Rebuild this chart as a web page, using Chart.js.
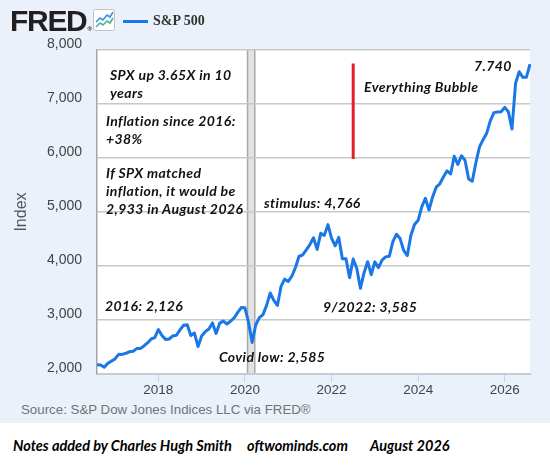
<!DOCTYPE html>
<html>
<head>
<meta charset="utf-8">
<title>S&amp;P 500 - FRED</title>
<script src="https://cdn.jsdelivr.net/npm/chart.js@4.4.1/dist/chart.umd.min.js"></script>
<style>
  body { margin: 0; width: 550px; height: 465px; position: relative; overflow: hidden; background: #fff;
         font-family: 'Liberation Sans', Arial, sans-serif; }
  #panel { position: absolute; left: 0; top: 0; width: 550px; height: 423px; background: #eaf1fa; }
  #chartBox { position: absolute; left: 0; top: 0; width: 550px; height: 400px; }
  #logo { position: absolute; left: 10px; top: 6px; font: 700 30px/30px 'Liberation Sans', Arial, sans-serif;
          letter-spacing: -1.3px; color: #231f20; }
  #logo .reg { font-size: 6px; letter-spacing: 0; vertical-align: baseline; margin-left: 1px; }
  #icon { position: absolute; left: 93px; top: 9px; }
  #legendLine { position: absolute; left: 123px; top: 20px; width: 25px; height: 3px; background: #1a78e6; }
  #legendText { position: absolute; left: 153px; top: 14px; font: 700 14px/14px 'Liberation Serif', 'Times New Roman', serif;
                color: #333; }
  .note { position: absolute; font: italic 700 14px/18.3px Lato, sans-serif; letter-spacing: 0.4px;
          color: #111; white-space: nowrap; }
  #source { position: absolute; left: 21px; top: 403px; font: 13.3px/14px 'Liberation Sans', Arial, sans-serif; color: #737373; }
  .credit { position: absolute; top: 438.5px; font: italic 700 14.5px/14px Lato, sans-serif; color: #000; white-space: nowrap; }
</style>
</head>
<body>
<div id="panel"></div>
<div id="chartBox"><canvas id="spxChart"></canvas></div>

<div id="logo">FRED<span class="reg">®</span></div>
<svg id="icon" width="22" height="22" viewBox="0 0 22 22">
  <rect x="0.5" y="0.5" width="21" height="21" rx="2" fill="#fff" stroke="#bfc4c9"/>
  <polyline points="3,13 7,9 10,11 14,6 17,8 20,3" fill="none" stroke="#3b8fe4" stroke-width="1.6"/>
  <polyline points="3,18 7,14 10,16 14,12 17,14 20,9" fill="none" stroke="#45b596" stroke-width="1.6"/>
</svg>
<div id="legendLine"></div>
<div id="legendText">S&amp;P 500</div>

<div class="note" style="left:110px; top:65.5px;">SPX up 3.65X in 10<br>years</div>
<div class="note" style="left:106px; top:112px;">Inflation since 2016:<br>+38%</div>
<div class="note" style="left:106px; top:163.5px;">If SPX matched<br>inflation, it would be<br>2,933 in August 2026</div>
<div class="note" style="left:264px; top:193.5px;">stimulus: 4,766</div>
<div class="note" style="left:105px; top:297px;">2016: 2,126</div>
<div class="note" style="left:219px; top:348px;">Covid low: 2,585</div>
<div class="note" style="left:323px; top:297.5px;">9/2022: 3,585</div>
<div class="note" style="left:364px; top:77.5px;">Everything Bubble</div>
<div class="note" style="left:474px; top:57px;">7.740</div>

<div id="source">Source: S&amp;P Dow Jones Indices LLC via FRED®</div>
<div class="credit" style="left:13px;">Notes added by Charles Hugh Smith</div>
<div class="credit" style="left:247px;">oftwominds.com</div>
<div class="credit" style="left:370px;">August 2026</div>

<script>
// Monthly observations (month-end close), Aug 2016 - Aug 2026
const MONTHS = [
  '2016-08', '2016-09', '2016-10', '2016-11', '2016-12',
  '2017-01', '2017-02', '2017-03', '2017-04', '2017-05', '2017-06', '2017-07', '2017-08', '2017-09', '2017-10', '2017-11', '2017-12',
  '2018-01', '2018-02', '2018-03', '2018-04', '2018-05', '2018-06', '2018-07', '2018-08', '2018-09', '2018-10', '2018-11', '2018-12',
  '2019-01', '2019-02', '2019-03', '2019-04', '2019-05', '2019-06', '2019-07', '2019-08', '2019-09', '2019-10', '2019-11', '2019-12',
  '2020-01', '2020-02', '2020-03', '2020-04', '2020-05', '2020-06', '2020-07', '2020-08', '2020-09', '2020-10', '2020-11', '2020-12',
  '2021-01', '2021-02', '2021-03', '2021-04', '2021-05', '2021-06', '2021-07', '2021-08', '2021-09', '2021-10', '2021-11', '2021-12',
  '2022-01', '2022-02', '2022-03', '2022-04', '2022-05', '2022-06', '2022-07', '2022-08', '2022-09', '2022-10', '2022-11', '2022-12',
  '2023-01', '2023-02', '2023-03', '2023-04', '2023-05', '2023-06', '2023-07', '2023-08', '2023-09', '2023-10', '2023-11', '2023-12',
  '2024-01', '2024-02', '2024-03', '2024-04', '2024-05', '2024-06', '2024-07', '2024-08', '2024-09', '2024-10', '2024-11', '2024-12',
  '2025-01', '2025-02', '2025-03', '2025-04', '2025-05', '2025-06', '2025-07', '2025-08', '2025-09', '2025-10', '2025-11', '2025-12',
  '2026-01', '2026-02', '2026-03', '2026-04', '2026-05', '2026-06', '2026-07', '2026-08'
];

const SP500 = [
  2171, 2168, 2126, 2199, 2239,
  2279, 2364, 2363, 2384, 2412, 2423, 2470, 2472, 2519, 2575, 2648, 2674,
  2824, 2714, 2641, 2648, 2705, 2718, 2816, 2902, 2914, 2712, 2760, 2507,
  2704, 2784, 2834, 2946, 2752, 2942, 2980, 2926, 2977, 3038, 3141, 3231,
  3226, 2954, 2585, 2912, 3044, 3100, 3271, 3500, 3363, 3270, 3622, 3756,
  3714, 3811, 3973, 4181, 4204, 4298, 4395, 4523, 4308, 4605, 4567, 4766,
  4516, 4374, 4530, 4132, 4132, 3785, 4130, 3955, 3586, 3872, 4080, 3840,
  4077, 3970, 4109, 4169, 4180, 4450, 4589, 4508, 4288, 4194, 4568, 4770,
  4846, 5096, 5254, 5036, 5278, 5460, 5522, 5648, 5762, 5705, 6032, 5882,
  6041, 5955, 5612, 5569, 5912, 6205, 6339, 6460, 6688, 6840, 6850, 6858,
  6938, 6858, 6537, 7383, 7598, 7494, 7494, 7740
];

const X_TICKS = ['2018-01', '2020-01', '2022-01', '2024-01', '2026-01'];
const X_TICK_LABELS = ['2018', '2020', '2022', '2024', '2026'];
const Y_TICKS = [2000, 3000, 4000, 5000, 6000, 7000, 8000];

// Covid recession (shaded) and the red "Everything Bubble" marker
const RECESSION = ['2020-02', '2020-04'];
const BUBBLE_MONTH = '2022-07';
const BUBBLE_RANGE = [5980, 7750];

const LINE_BLUE = '#1a78e6';

// white plot area + recession band, painted before the grid
const plotBackground = {
  id: 'plotBackground',
  beforeDraw(chart) {
    const { ctx, chartArea: a, scales: { x } } = chart;
    ctx.save();
    ctx.fillStyle = '#ffffff';
    ctx.fillRect(a.left, a.top, a.right - a.left, a.bottom - a.top);

    const x0 = x.getPixelForValue(MONTHS.indexOf(RECESSION[0])) - 1;
    const x1 = x.getPixelForValue(MONTHS.indexOf(RECESSION[1])) - 1;
    ctx.fillStyle = '#e3e3e3';
    ctx.fillRect(x0, a.top, x1 - x0, a.bottom - a.top);
    ctx.strokeStyle = '#a9a9a9';
    ctx.lineWidth = 1.5;
    ctx.beginPath();
    ctx.moveTo(x0, a.top); ctx.lineTo(x0, a.bottom);
    ctx.moveTo(x1, a.top); ctx.lineTo(x1, a.bottom);
    ctx.stroke();
    ctx.restore();
  }
};

Chart.defaults.font.family = "'Liberation Sans', Arial, sans-serif";
Chart.defaults.color = '#444';

const ctx = document.getElementById('spxChart');
new Chart(ctx, {
  type: 'line',
  data: {
    labels: MONTHS,
    datasets: [
      {
        label: 'S&P 500',
        data: SP500,
        borderColor: LINE_BLUE,
        borderWidth: 3,
        borderJoinStyle: 'round',
        pointRadius: 0,
        tension: 0
      },
      {
        label: 'Everything Bubble',
        data: BUBBLE_RANGE.map(v => ({ x: BUBBLE_MONTH, y: v })),
        borderColor: '#e3202b',
        borderWidth: 3,
        pointRadius: 0
      }
    ]
  },
  options: {
    responsive: true,
    maintainAspectRatio: false,
    animation: false,
    layout: { padding: { top: 50, right: 20, left: 0, bottom: 0 } },
    plugins: {
      legend: { display: false },
      tooltip: { enabled: false }
    },
    scales: {
      x: {
        type: 'category',
        offset: false,
        afterBuildTicks: s => { s.ticks = X_TICKS.map(m => ({ value: MONTHS.indexOf(m) })); },
        afterFit: s => { s.height = 26; },
        grid: { drawOnChartArea: false, drawTicks: true, tickLength: 8, color: '#c9d3df', lineWidth: 1 },
        border: { color: '#c3ccd7', width: 2 },
        ticks: {
          autoSkip: false,
          maxRotation: 0,
          padding: 0,
          color: '#444',
          font: { size: 13.5 },
          callback: (value, i) => X_TICK_LABELS[i]
        }
      },
      y: {
        min: Y_TICKS[0],
        max: Y_TICKS[Y_TICKS.length - 1],
        afterBuildTicks: s => { s.ticks = Y_TICKS.map(v => ({ value: v })); },
        afterFit: s => { s.width = 97; },
        grid: { color: '#c8c8c8', lineWidth: 1.5, drawTicks: false },
        border: { display: true, color: '#a6a6a6', width: 1.5 },
        ticks: {
          padding: 15,
          labelOffset: -6,
          color: '#444',
          font: { size: 14 },
          callback: v => v.toLocaleString('en-US')
        },
        title: {
          display: true,
          text: 'Index',
          color: '#555',
          font: { size: 16 },
          padding: { top: 12, bottom: 0 }
        }
      }
    }
  },
  plugins: [plotBackground]
});
</script>
</body>
</html>
